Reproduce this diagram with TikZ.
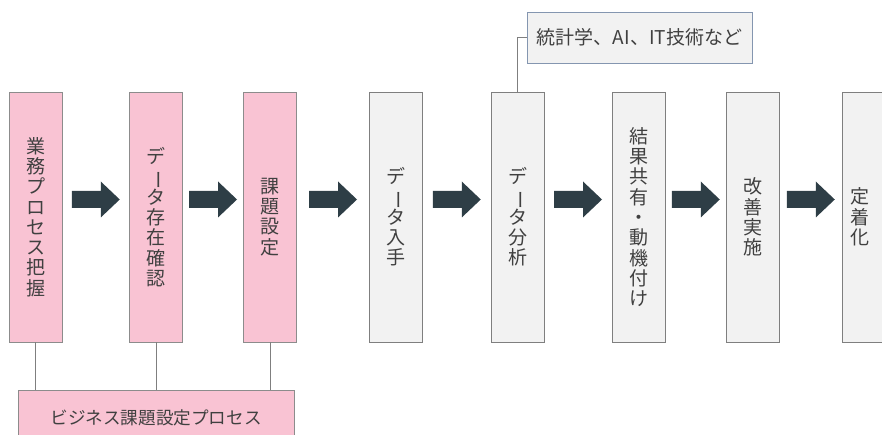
\documentclass[tikz,border=0pt]{standalone}
\usepackage{fontspec}
\usepackage{graphicx}
\usetikzlibrary{calc}
\newfontfamily\jp{Noto Sans CJK JP}
\definecolor{pinkfill}{HTML}{F9C3D3}
\definecolor{pinkline}{HTML}{8C8C8C}
\definecolor{grayfill}{HTML}{F2F2F2}
\definecolor{grayline}{HTML}{7F7F7F}
\definecolor{topline}{HTML}{8496B0}
\definecolor{arrowc}{HTML}{2E3E46}
\definecolor{txt}{HTML}{404040}
\newcommand{\vchoon}{\smash{\rotatebox[origin=c]{-90}{ー}}}
\tikzset{
  stage/.style={draw, line width=0.8pt, minimum width=53pt, minimum height=250pt,
    inner sep=0pt, align=center, text=txt,
    font=\jp\fontsize{19}{20.3}\selectfont},
  pinkstage/.style={stage, fill=pinkfill, draw=pinkline},
  graystage/.style={stage, fill=grayfill, draw=grayline},
  conn/.style={draw=grayline, line width=0.9pt},
  pics/barrow/.style={code={
    \fill[arrowc] (-24,-8.5) -- (5,-8.5) -- (5,-18) -- (24,0) -- (5,18) -- (5,8.5) -- (-24,8.5) -- cycle;}}
}
\begin{document}
\begin{tikzpicture}[x=1pt,y=-1pt]
\useasboundingbox (0,0) rectangle (882,435);
\clip (0,0) rectangle (882,435);
\node[pinkstage] (b1) at (35.5,217) {業\\務\\プ\\ロ\\セ\\ス\\把\\握};
\node[pinkstage] (b2) at (156,217) {デ\\\vchoon\\タ\\存\\在\\確\\認};
\node[pinkstage] (b3) at (270,217) {課\\題\\設\\定};
\node[graystage] (b4) at (396,217) {デ\\\vchoon\\タ\\入\\手};
\node[graystage] (b5) at (517.5,217) {デ\\\vchoon\\タ\\分\\析};
\node[graystage] (b6) at (638.5,217) {結\\果\\共\\有\\・\\動\\機\\付\\け};
\node[graystage] (b7) at (753,217) {改\\善\\実\\施};
\node[graystage] (b8) at (868.5,217) {\hspace*{-17pt}定\\\hspace*{-17pt}着\\\hspace*{-17pt}化};
\node[draw=pinkline, fill=pinkfill, line width=0.8pt, minimum width=276pt, minimum height=55pt,
  inner sep=0pt, text=txt, font=\jp\fontsize{17.6}{20}\selectfont] (bot) at (156,417.5) {ビジネス課題設定プロセス};
\node[draw=topline, fill=grayfill, line width=0.8pt, minimum width=225pt, minimum height=51pt,
  inner sep=0pt, text=txt, font=\jp\fontsize{19}{20}\selectfont] (top) at (639.5,37.5) {統計学、AI、IT技術など};
\draw[conn] (b1.south) -- (b1.south |- bot.north);
\draw[conn] (b2.south) -- (b2.south |- bot.north);
\draw[conn] (b3.south) -- (b3.south |- bot.north);
\draw[conn] (b5.north) |- (top.west);
\path ($(b1.east)!0.5!(b2.west)$) ++(0,-17.5) pic {barrow};
\path ($(b2.east)!0.5!(b3.west)$) ++(0,-17.5) pic {barrow};
\path ($(b3.east)!0.5!(b4.west)$) ++(0,-17.5) pic {barrow};
\path ($(b4.east)!0.5!(b5.west)$) ++(0,-17.5) pic {barrow};
\path ($(b5.east)!0.5!(b6.west)$) ++(0,-17.5) pic {barrow};
\path ($(b6.east)!0.5!(b7.west)$) ++(0,-17.5) pic {barrow};
\path ($(b7.east)!0.5!(b8.west)$) ++(0,-17.5) pic {barrow};
\end{tikzpicture}
\end{document}
